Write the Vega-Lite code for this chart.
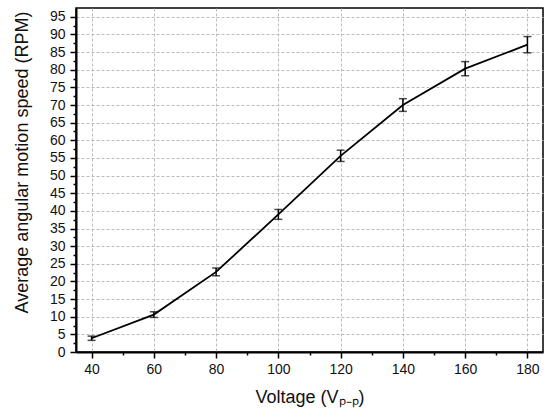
{
  "$schema": "https://vega.github.io/schema/vega-lite/v6.json",
  "width": 467,
  "height": 344,
  "autosize": {"type": "none"},
  "padding": {"left": 76, "top": 8, "right": 7, "bottom": 67},
  "background": "white",
  "data": {
    "values": [
      {"voltage": 40, "speed": 3.9, "err": 0.6},
      {"voltage": 60, "speed": 10.6, "err": 0.8},
      {"voltage": 80, "speed": 22.7, "err": 1.1},
      {"voltage": 100, "speed": 39.0, "err": 1.4},
      {"voltage": 120, "speed": 55.6, "err": 1.6},
      {"voltage": 140, "speed": 70.0, "err": 1.8},
      {"voltage": 160, "speed": 80.3, "err": 2.0},
      {"voltage": 180, "speed": 87.1, "err": 2.3}
    ]
  },
  "layer": [
    {
      "mark": {"type": "line", "color": "black", "strokeWidth": 1.8},
      "encoding": {
        "x": {
          "field": "voltage",
          "type": "quantitative",
          "scale": {"domain": [35, 185], "nice": false, "zero": false},
          "axis": {
            "title": "Voltage (Vₚ₋ₚ)",
            "values": [40, 60, 80, 100, 120, 140, 160, 180],
            "tickSize": 6,
            "labelPadding": 4,
            "titlePadding": 12
          }
        },
        "y": {
          "field": "speed",
          "type": "quantitative",
          "scale": {"domain": [0, 97.5], "nice": false},
          "axis": {
            "title": "Average angular motion speed (RPM)",
            "values": [0, 5, 10, 15, 20, 25, 30, 35, 40, 45, 50, 55, 60, 65, 70, 75, 80, 85, 90, 95],
            "tickSize": 6,
            "labelPadding": 5,
            "titlePadding": 18,
            "titleY": 154
          }
        }
      }
    },
    {
      "mark": {
        "type": "errorbar",
        "color": "black",
        "thickness": 1.5,
        "ticks": {"size": 8, "thickness": 1.5}
      },
      "encoding": {
        "x": {
          "field": "voltage",
          "type": "quantitative",
          "axis": {
            "orient": "bottom",
            "values": [50, 70, 90, 110, 130, 150, 170],
            "labels": false,
            "grid": false,
            "domain": false,
            "tickSize": 3,
            "title": null
          }
        },
        "y": {
          "field": "speed",
          "type": "quantitative",
          "axis": {
            "orient": "left",
            "values": [2.5, 7.5, 12.5, 17.5, 22.5, 27.5, 32.5, 37.5, 42.5, 47.5, 52.5, 57.5, 62.5, 67.5, 72.5, 77.5, 82.5, 87.5, 92.5],
            "labels": false,
            "grid": false,
            "domain": false,
            "tickSize": 3,
            "title": null
          }
        },
        "yError": {"field": "err"}
      }
    }
  ],
  "resolve": {"axis": {"x": "independent", "y": "independent"}},
  "config": {
    "font": "Liberation Sans",
    "view": {"stroke": "black", "strokeWidth": 1.5},
    "axis": {
      "domainColor": "black",
      "domainWidth": 2,
      "tickColor": "black",
      "tickWidth": 1.5,
      "labelFontSize": 14,
      "labelColor": "#111",
      "titleFontSize": 18,
      "titleFontWeight": "normal",
      "titleColor": "#111",
      "grid": true,
      "gridColor": "#bcbcbc",
      "gridDash": [3, 2],
      "gridWidth": 1
    }
  }
}
